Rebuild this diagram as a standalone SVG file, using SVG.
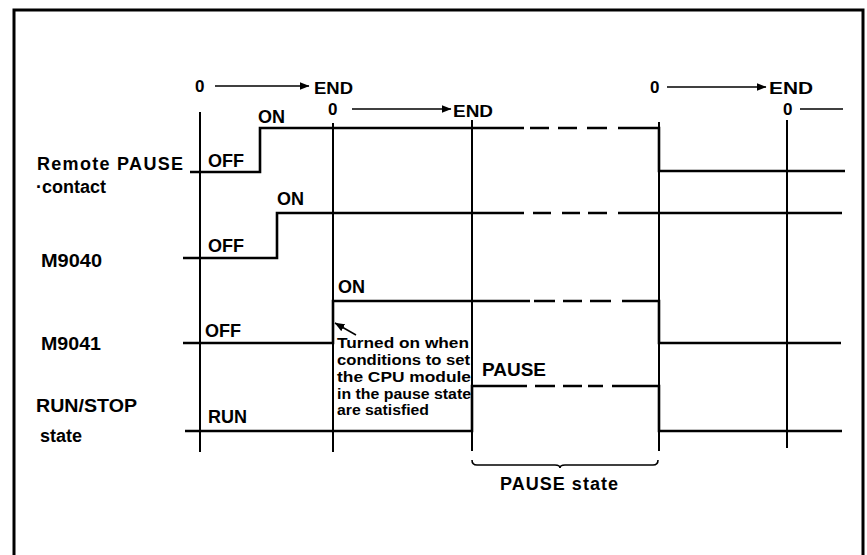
<svg xmlns="http://www.w3.org/2000/svg" width="867" height="555" viewBox="0 0 867 555">
<style>
  text { font-family: "Liberation Sans", Arial, sans-serif; font-weight: bold; fill: #000; }
  .lbl { font-size: 18px; }
  .ax { font-size: 17px; }
  .note { font-size: 14px; }
  .sig { fill: none; stroke: #000; stroke-width: 2.6; stroke-linejoin: miter; stroke-linecap: butt; }
  .dash { fill: none; stroke: #000; stroke-width: 2.6; }
  .vl { fill: none; stroke: #000; stroke-width: 2; }
  .ar { fill: none; stroke: #000; stroke-width: 1.6; }
  .frame { fill: none; stroke: #000; stroke-width: 3; }
</style>
<defs>
  <marker id="ah" markerWidth="10" markerHeight="8" refX="9.5" refY="4" orient="auto" markerUnits="userSpaceOnUse">
    <path d="M0,0 L10,4 L0,8 Z" fill="#000"/>
  </marker>
</defs>
<rect x="0" y="0" width="867" height="555" fill="#fff"/>
<path class="frame" d="M14,560 V10 H863 V560"/>

<g id="scan-axes">
  <text class="ax" x="195" y="92">0</text>
  <line class="ar" x1="215" y1="86" x2="309" y2="86" marker-end="url(#ah)"/>
  <text class="ax" x="314" y="94" textLength="39" lengthAdjust="spacingAndGlyphs">END</text>
  <text class="ax" x="328" y="115">0</text>
  <line class="ar" x1="352" y1="109" x2="451" y2="109" marker-end="url(#ah)"/>
  <text class="ax" x="453" y="117" textLength="40" lengthAdjust="spacingAndGlyphs">END</text>
  <text class="ax" x="650" y="93">0</text>
  <line class="ar" x1="667" y1="87" x2="766" y2="87" marker-end="url(#ah)"/>
  <text class="ax" x="769" y="94" textLength="44" lengthAdjust="spacingAndGlyphs">END</text>
  <text class="ax" x="783" y="115">0</text>
  <line class="ar" x1="800" y1="109" x2="843" y2="109"/>
</g>

<g id="time-markers">
  <line class="vl" x1="200" y1="112" x2="200" y2="452"/>
  <line class="vl" x1="333" y1="123" x2="333" y2="452"/>
  <line class="vl" x1="472" y1="120" x2="472" y2="451"/>
  <line class="vl" x1="659" y1="122" x2="659" y2="451"/>
  <line class="vl" x1="787" y1="120" x2="787" y2="448"/>
</g>

<g id="remote-pause">
  <text class="lbl" x="37" y="170" textLength="146" lengthAdjust="spacing">Remote PAUSE</text>
  <text class="lbl" x="36" y="193">·contact</text>
  <text class="lbl" x="208" y="167">OFF</text>
  <text class="lbl" x="258" y="123">ON</text>
  <path class="sig" d="M190,172 H260 V128 H524"/>
  <path class="dash" d="M530,128 H549 M558,128 H577 M587,128 H607"/>
  <path class="sig" d="M618,128 H659 V171 H845"/>
</g>

<g id="m9040">
  <text class="lbl" x="41" y="267" textLength="61" lengthAdjust="spacingAndGlyphs">M9040</text>
  <text class="lbl" x="208" y="252">OFF</text>
  <text class="lbl" x="277" y="205">ON</text>
  <path class="sig" d="M183,258 H277 V213 H524"/>
  <path class="dash" d="M533,213 H551 M562,213 H580 M588,213 H607"/>
  <path class="sig" d="M618,213 H842"/>
</g>

<g id="m9041">
  <text class="lbl" x="41" y="350" textLength="60" lengthAdjust="spacingAndGlyphs">M9041</text>
  <text class="lbl" x="205" y="337">OFF</text>
  <text class="lbl" x="338" y="293">ON</text>
  <path class="sig" d="M183,343 H333 V301 H530"/>
  <path class="dash" d="M534,301 H555 M563,301 H582 M590,301 H611"/>
  <path class="sig" d="M622,301 H659 V343 H841"/>
</g>

<g id="run-stop">
  <text class="lbl" x="36" y="412" textLength="101" lengthAdjust="spacingAndGlyphs">RUN/STOP</text>
  <text class="lbl" x="40" y="442">state</text>
  <text class="lbl" x="208" y="423">RUN</text>
  <text class="lbl" x="482" y="376" textLength="64" lengthAdjust="spacingAndGlyphs">PAUSE</text>
  <path class="sig" d="M185,431 H472 V386 H527"/>
  <path class="dash" d="M535,386 H555 M563,386 H582 M588,386 H603"/>
  <path class="sig" d="M612,386 H659 V431 H842"/>
</g>

<g id="annotation">
  <line class="ar" x1="356" y1="335" x2="335" y2="323" stroke-width="2.2" marker-end="url(#ah)"/>
  <text class="note" x="337" y="348" textLength="132" lengthAdjust="spacingAndGlyphs">Turned on when</text>
  <text class="note" x="337" y="365" textLength="133" lengthAdjust="spacingAndGlyphs">conditions to set</text>
  <text class="note" x="337" y="382" textLength="134" lengthAdjust="spacingAndGlyphs">the CPU module</text>
  <text class="note" x="337" y="399" textLength="134" lengthAdjust="spacingAndGlyphs">in the pause state</text>
  <text class="note" x="337" y="415" textLength="92" lengthAdjust="spacingAndGlyphs">are satisfied</text>
</g>

<g id="pause-state">
  <path class="ar" stroke-width="2" d="M472,460 Q472,465 477,465 H555 Q560,465 560,468 Q560,465 565,465 H653 Q658,465 658,460"/>
  <text class="lbl" x="500" y="490" textLength="118" lengthAdjust="spacing">PAUSE state</text>
</g>
</svg>
